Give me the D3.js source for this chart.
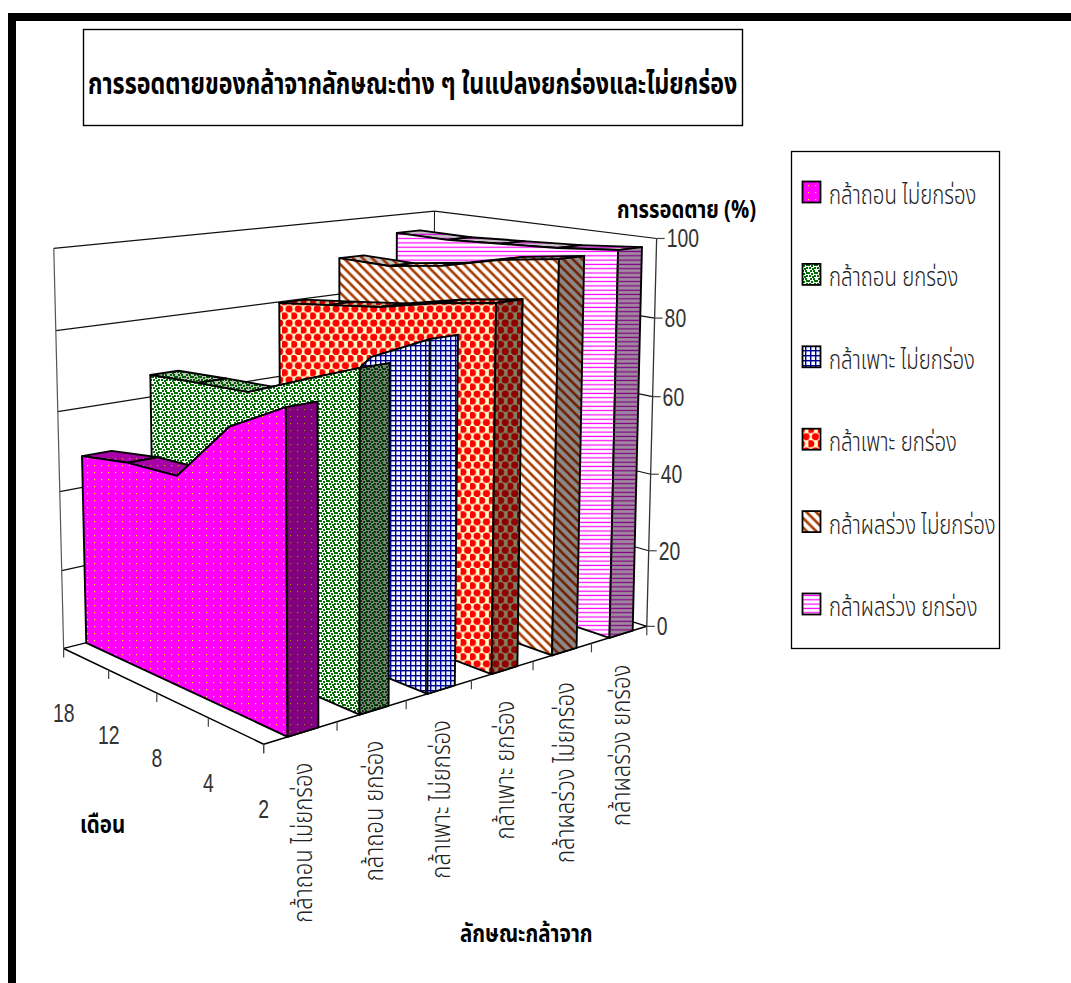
<!DOCTYPE html>
<html><head><meta charset="utf-8"><script src="https://cdn.jsdelivr.net/npm/d3@7"></script>
<style>
html,body{margin:0;background:#fff}
svg{display:block}
text{font-family:"Noto Sans Thai","Noto Sans",sans-serif;fill:#222;font-weight:300}
.num{font-family:"Liberation Sans",sans-serif;fill:#333;font-weight:400}
.b{font-weight:700;fill:#000}
</style></head><body><svg id="c" width="1071" height="983"></svg>
<script>
// Survival of rice seedlings by seedling type, month and bed preparation
const seedlingTypes = ["กล้าถอน ไม่ยกร่อง","กล้าถอน ยกร่อง","กล้าเพาะ ไม่ยกร่อง","กล้าเพาะ ยกร่อง","กล้าผลร่วง ไม่ยกร่อง","กล้าผลร่วง ยกร่อง"];
const months = [2,4,8,12,18];
const valueTicks = [0,20,40,60,80,100];
// survival (%), listed by month in the order of `months`
const pulledFlat   = [73.5,65.7,50.7,50.0,47.9];
const pulledRaised = [79.4,73.6,67.6,66.7,65.6];
const sownFlat     = [83.4,76.4,60,57,55];
const sownRaised   = [89.5,87.0,83.6,81.6,79.7];
const scatterFlat  = [97.9,95.6,92.0,89.8,89.8];
const scatterRaised= [98.3,96.8,95.9,95.0,95.0];
const survival = [pulledFlat,pulledRaised,sownFlat,sownRaised,scatterFlat,scatterRaised];

const titleText = "การรอดตายของกล้าจากลักษณะต่าง ๆ ในแปลงยกร่องและไม่ยกร่อง";
const valueTitle = "การรอดตาย (%)", monthTitle = "เดือน", typeTitle = "ลักษณะกล้าจาก";

// Face colours per series: [background, foreground] for the long side, the end and the top
const swatches = [
 {kind:"dots",  side:["#ff00ff","#ffff00"], end:["#800080","#909000"], top:["#a800a8","#a8a800"]},
 {kind:"speck", side:["#ffffff","#007000"], end:["#808080","#004000"], top:["#c0c4bc","#006000"]},
 {kind:"grid",  side:["#f4faff","#000090"], end:["#e4f0ff","#000090"], top:["#c0d0e0","#000080"]},
 {kind:"plus",  side:["#ffffcc","#ff0000"], end:["#808060","#900000"], top:["#c0c090","#c00000"]},
 {kind:"hatch", side:["#ffffff","#a83c00"], end:["#8a8a8a","#702000"], top:["#c8c8c8","#993300"]},
 {kind:"bars",  side:["#ffffff","#ff00ff"], end:["#a088a0","#800080"], top:["#c4c4c4","#d000d0"]}
];

const svg = d3.select("#c"), defs = svg.append("defs");

// Pattern tiles
function addPattern(id,kind,[bg,fg]){
  const size = {dots:[7,7],speck:[8,8],grid:[5,5],plus:[9.4,14.2],hatch:[9.5,9.5],bars:[4.3,4.3]}[kind];
  const p = defs.append("pattern").attr("id",id).attr("patternUnits","userSpaceOnUse")
    .attr("width",size[0]).attr("height",size[1]);
  p.append("rect").attr("width",size[0]).attr("height",size[1]).attr("fill",bg);
  if(kind==="dots") p.append("rect").attr("x",3).attr("y",3).attr("width",1.2).attr("height",1.2).attr("fill",fg);
  if(kind==="speck") [[0,0],[3,1],[6,0],[1,3],[4,4],[6,3],[2,6],[5,6]].forEach(([x,y])=>p.append("rect").attr("x",x).attr("y",y).attr("width",2).attr("height",2).attr("fill",fg));
  if(kind==="grid"){
    p.append("rect").attr("width",1.4).attr("height",size[1]).attr("fill",fg);
    p.append("rect").attr("width",size[0]).attr("height",1.4).attr("fill",fg);
  }
  if(kind==="plus") [[2.35,3.55],[7.05,10.65],[-2.35,10.65]].forEach(([cx,cy])=>{
    p.append("circle").attr("cx",cx).attr("cy",cy).attr("r",3.6).attr("fill",fg);
  });
  if(kind==="hatch"){
    p.append("path").attr("d","M-3,-3L12.5,12.5M-3,6.5L3,12.5M6.5,-3L12.5,3").attr("stroke",fg).attr("stroke-width",2.6);
  }
  if(kind==="bars") p.append("rect").attr("y",1.5).attr("width",size[0]).attr("height",1.2).attr("fill",fg);
}
swatches.forEach((s,i)=>["side","end","top"].forEach(f=>addPattern(`p${i}${f}`,s.kind,s[f])));

// Page frame
svg.append("rect").attr("x",8).attr("y",13).attr("width",8).attr("height",970).attr("fill","#000");
svg.append("rect").attr("x",8).attr("y",13).attr("width",1063).attr("height",8).attr("fill","#000");

// Chart scales: series across, months in depth, survival upward
const xScale = d3.scaleBand().domain(seedlingTypes).range([0,1]);
const zScale = d3.scalePoint().domain(months).range([0,1]);
const yScale = d3.scaleLinear().domain([0,100]).range([0,1]);

// Perspective camera fitted to the plot box corners
const boxCorners = [[0,0,0,263,744],[1,0,0,647,626],[0,0,1,64,649],[0,1,1,54,248],[1,1,0,657,239],[1,1,1,434,211]];
function fitCamera(pts){
  const A=[],b=[];
  for(const [X,Y,Z,u,v] of pts){
    A.push([X,Y,Z,1,0,0,0,0,-u*X,-u*Y,-u*Z]);b.push(u);
    A.push([0,0,0,0,X,Y,Z,1,-v*X,-v*Y,-v*Z]);b.push(v);
  }
  const n=11,N=d3.range(n).map(i=>d3.range(n).map(j=>d3.sum(A,r=>r[i]*r[j]))),c=d3.range(n).map(i=>d3.sum(A,(r,k)=>r[i]*b[k]));
  for(let i=0;i<n;i++){
    let m=i;for(let k=i;k<n;k++)if(Math.abs(N[k][i])>Math.abs(N[m][i]))m=k;
    [N[i],N[m]]=[N[m],N[i]];[c[i],c[m]]=[c[m],c[i]];
    for(let k=i+1;k<n;k++){const f=N[k][i]/N[i][i];for(let j=i;j<n;j++)N[k][j]-=f*N[i][j];c[k]-=f*c[i];}
  }
  const p=Array(n);
  for(let i=n-1;i>=0;i--)p[i]=(c[i]-d3.sum(d3.range(i+1,n),j=>N[i][j]*p[j]))/N[i][i];
  return (X,Y,Z)=>{const w=p[8]*X+p[9]*Y+p[10]*Z+1;return[(p[0]*X+p[1]*Y+p[2]*Z+p[3])/w,(p[4]*X+p[5]*Y+p[6]*Z+p[7])/w];};
}
const project = fitCamera(boxCorners);
const poly = d3.line();
const closed = pts => poly(pts)+"Z";

// Walls and floor
const walls = svg.append("g").attr("fill","none");
function edge(a,b,stroke,w){walls.append("path").attr("d",poly([project(...a),project(...b)])).attr("stroke",stroke).attr("stroke-width",w);}
valueTicks.forEach(v=>{
  const y=yScale(v);
  if(v>0){edge([0,y,1],[1,y,1],"#111",1.2);edge([1,y,1],[1,y,0],"#111",1.2);}
});
edge([0,0,1],[0,1,1],"#555",1.2);
edge([1,0,1],[1,1,1],"#111",1);
edge([1,0,0],[1,1,0],"#333",1.3);
edge([0,0,0],[1,0,0],"#000",1.5);
edge([0,0,0],[0,0,1],"#000",1.5);
edge([0,0,1],[1,0,1],"#000",1.3);
edge([1,0,0],[1,0,1],"#000",1.3);

// Ticks along the three axes
const ticks = svg.append("g").attr("stroke","#444").attr("stroke-width",1.2);
function tick(p,dx,dy){ticks.append("line").attr("x1",p[0]).attr("y1",p[1]).attr("x2",p[0]+dx).attr("y2",p[1]+dy);}
valueTicks.forEach(v=>tick(project(1,yScale(v),0),8,0));
months.forEach(m=>tick(project(0,0,zScale(m)),0,9));
d3.range(seedlingTypes.length+1).forEach(i=>tick(project(i/seedlingTypes.length,0,0),0,9));

// One ribbon per series, furthest first
const barStart=.32, barWidth=.42;
const ribbons = svg.append("g").attr("stroke","#000").attr("stroke-width",1.9).attr("stroke-linejoin","round");
d3.range(seedlingTypes.length).reverse().forEach(i=>{
  const t=seedlingTypes[i], bw=xScale.bandwidth();
  const x0=xScale(t)+barStart*bw, x1=x0+barWidth*bw;
  const series=months.map((m,k)=>({z:zScale(m),y:yScale(survival[i][k])}));
  const back=[...series].reverse();
  const g=ribbons.append("g");
  // top strips
  d3.pairs(back).forEach(([a,b])=>{
    g.append("path").attr("fill",`url(#p${i}top)`)
      .attr("d",closed([project(x0,a.y,a.z),project(x1,a.y,a.z),project(x1,b.y,b.z),project(x0,b.y,b.z)]));
  });
  // long side
  g.append("path").attr("fill",`url(#p${i}side)`)
    .attr("d",closed([project(x0,0,back[0].z),...back.map(d=>project(x0,d.y,d.z)),project(x0,0,0)]));
  // near end
  const near=series[0];
  g.append("path").attr("fill",`url(#p${i}end)`)
    .attr("d",closed([project(x0,0,0),project(x0,near.y,0),project(x1,near.y,0),project(x1,0,0)]));
});

// Text helper: squeezed horizontally
function put(sel,str,x,y,size,sx,opt={}){
  return sel.append("text").attr("class",opt.cls||null).attr("text-anchor",opt.anchor||"start")
    .attr("font-size",size).attr("transform",`translate(${x},${y}) rotate(${opt.rot||0}) scale(${sx},1)`).text(str);
}
const labels=svg.append("g");
const digitScale=.76;
valueTicks.forEach(v=>{const p=project(1,yScale(v),0);put(labels,v,p[0]+10,p[1]+9,25.5,digitScale,{cls:"num"});});
months.forEach(m=>{const p=project(0,0,zScale(m));put(labels,m,p[0],p[1]+74,25.5,digitScale,{cls:"num",anchor:"middle"});});
seedlingTypes.forEach((t,i)=>{
  const p=project((i+.5)/seedlingTypes.length,0,0);
  put(labels,t,p[0]+11,p[1]+30,27,.82,{anchor:"end",rot:-90});
});
put(labels,valueTitle,617,218,25,.81,{cls:"b"});
put(labels,monthTitle,80,833,25,.82,{cls:"b"});
put(labels,typeTitle,460,942,25,.82,{cls:"b"});

// Title box
svg.append("rect").attr("x",83.5).attr("y",29.5).attr("width",659).attr("height",96).attr("fill","none").attr("stroke","#000").attr("stroke-width",1.4);
put(labels,titleText,88,94,30,.775,{cls:"b"});

// Legend
const legend=svg.append("g");
legend.append("rect").attr("x",791.5).attr("y",151.5).attr("width",208).attr("height",497).attr("fill","none").attr("stroke","#000").attr("stroke-width",1.3);
const legendRow=d3.scalePoint().domain(seedlingTypes).range([192,604]);
seedlingTypes.forEach((t,i)=>{
  const y=legendRow(t);
  legend.append("rect").attr("x",802.5).attr("y",y-10.5).attr("width",18).attr("height",21)
    .attr("fill",`url(#p${i}side)`).attr("stroke","#000").attr("stroke-width",1.8);
  put(legend,t,829,y+12,27,.755);
});
</script></body></html>
